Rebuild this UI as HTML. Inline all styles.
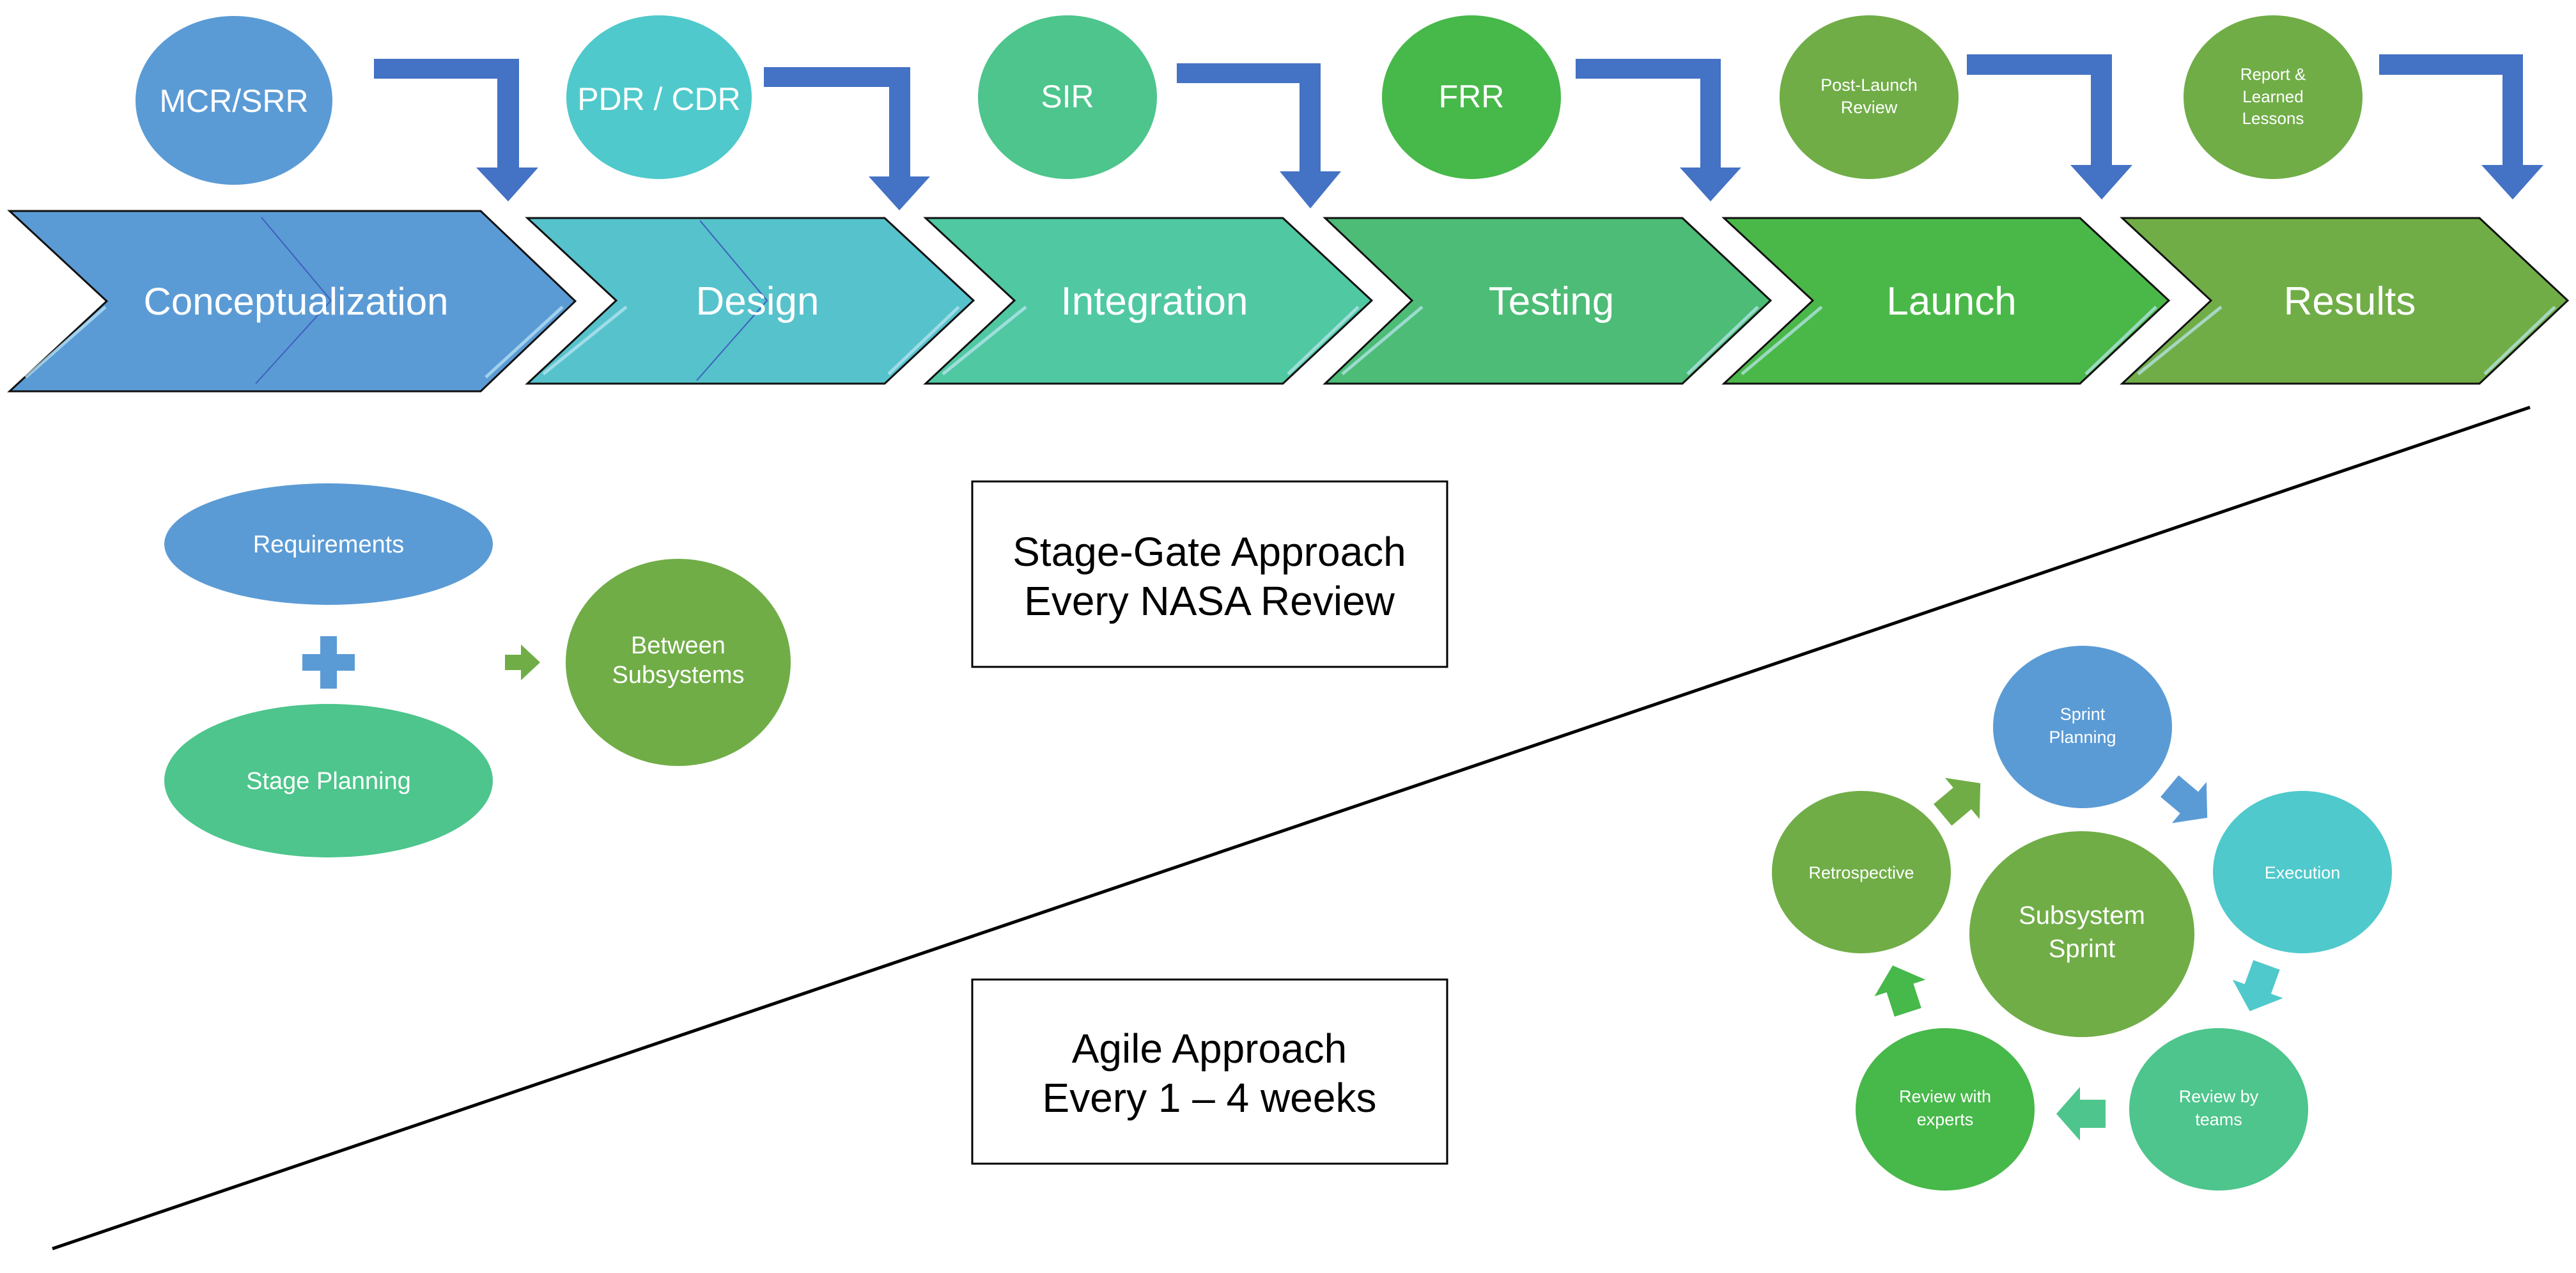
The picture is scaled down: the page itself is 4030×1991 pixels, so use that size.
<!DOCTYPE html>
<html><head><meta charset="utf-8"><style>
html,body{margin:0;padding:0;background:#fff;}
svg{display:block;}
text{font-family:"Liberation Sans",sans-serif;fill:#fff;text-anchor:middle;}
.b{fill:#000;}
</style></head><body>
<svg width="4030" height="1991" viewBox="0 0 4030 1991" xmlns="http://www.w3.org/2000/svg">
<defs>
<polygon id="sa" points="-35,-22 5,-22 5,-42 42,0 5,42 5,22 -35,22"/>
</defs>
<ellipse cx="366" cy="157" rx="154" ry="132" fill="#5B9BD5"/>
<ellipse cx="1031" cy="152" rx="145" ry="128" fill="#4FC9CB"/>
<ellipse cx="1670" cy="152" rx="140" ry="128" fill="#4DC58C"/>
<ellipse cx="2302" cy="152" rx="140" ry="128" fill="#47B84A"/>
<ellipse cx="2924" cy="152" rx="140" ry="128" fill="#70AD47"/>
<ellipse cx="3556" cy="152" rx="140" ry="128" fill="#70AD47"/>
<text x="366" y="175" font-size="50">MCR/SRR</text>
<text x="1031" y="172" font-size="50">PDR / CDR</text>
<text x="1670" y="168" font-size="50">SIR</text>
<text x="2302" y="168" font-size="50">FRR</text>
<text x="2924" y="142" font-size="27">Post-Launch</text>
<text x="2924" y="177" font-size="27">Review</text>
<text x="3556" y="125" font-size="26">Report &amp;</text>
<text x="3556" y="160" font-size="26">Learned</text>
<text x="3556" y="194" font-size="26">Lessons</text>
<g fill="#4472C4">
<polygon points="585,92 812,92 812,262 842,262 795,315 745,262 778,262 778,123 585,123"/>
<polygon points="1195,105 1424,105 1424,276 1455,276 1407,329 1359,276 1391,276 1391,136 1195,136"/>
<polygon points="1841,99 2066,99 2066,268 2098,268 2050,326 2002,268 2033,268 2033,130 1841,130"/>
<polygon points="2465,92 2692,92 2692,262 2724,262 2676,315 2628,262 2660,262 2660,123 2465,123"/>
<polygon points="3077,85 3304,85 3304,258 3336,258 3288,312 3239,258 3271,258 3271,117 3077,117"/>
<polygon points="3722,85 3947,85 3947,258 3979,258 3931,312 3882,258 3915,258 3915,117 3722,117"/>
</g>
<g stroke="#111" stroke-width="3">
<polygon points="15,330 752,330 900,471 752,612 15,612 167,471" fill="#5B9BD5"/>
<polygon points="825,341 1384,341 1523,470 1384,600 825,600 964,470" fill="#56C2CC"/>
<polygon points="1448,341 2007,341 2146,470 2007,600 1448,600 1587,470" fill="#50C8A2"/>
<polygon points="2073,341 2632,341 2770,470 2632,600 2073,600 2209,470" fill="#4CBC76"/>
<polygon points="2697,341 3254,341 3393,470 3254,600 2697,600 2836,470" fill="#4AB848"/>
<polygon points="3320,341 3879,341 4017,470 3879,600 3320,600 3459,470" fill="#70AD47"/>
</g>
<g stroke="#bfe8f5" stroke-width="5" opacity="0.7" fill="none">
<line x1="165" y1="480" x2="40" y2="590"/><line x1="880" y1="480" x2="760" y2="590"/>
<line x1="980" y1="480" x2="850" y2="585"/><line x1="1500" y1="480" x2="1390" y2="585"/>
<line x1="1605" y1="480" x2="1475" y2="585"/><line x1="2125" y1="480" x2="2015" y2="585"/>
<line x1="2225" y1="480" x2="2100" y2="585"/><line x1="2750" y1="480" x2="2640" y2="585"/>
<line x1="2850" y1="480" x2="2725" y2="585"/><line x1="3373" y1="480" x2="3263" y2="585"/>
<line x1="3475" y1="480" x2="3345" y2="585"/><line x1="3997" y1="480" x2="3887" y2="585"/>
</g>
<g stroke="#3f5fbf" stroke-width="2" fill="none">
<polyline points="409,340 518,470 400,600"/>
<polyline points="1095,345 1200,470 1090,595"/>
</g>
<text x="463" y="492" font-size="60">Conceptualization</text>
<text x="1185" y="492" font-size="62">Design</text>
<text x="1806" y="492" font-size="62">Integration</text>
<text x="2427" y="492" font-size="62">Testing</text>
<text x="3053" y="492" font-size="62">Launch</text>
<text x="3676" y="492" font-size="62">Results</text>
<line x1="82" y1="1953" x2="3958" y2="637" stroke="#000" stroke-width="5"/>
<ellipse cx="514" cy="851" rx="257" ry="95" fill="#5B9BD5"/>
<ellipse cx="514" cy="1221" rx="257" ry="120" fill="#4DC58C"/>
<text x="514" y="864" font-size="38">Requirements</text>
<text x="514" y="1234" font-size="38">Stage Planning</text>
<g fill="#5B9BD5"><rect x="473" y="1023" width="82" height="26"/><rect x="501" y="995" width="26" height="82"/></g>
<polygon points="790,1024 815,1024 815,1008 845,1036 815,1064 815,1048 790,1048" fill="#70AD47"/>
<ellipse cx="1061" cy="1036" rx="176" ry="162" fill="#70AD47"/>
<text x="1061" y="1022" font-size="38">Between</text>
<text x="1061" y="1068" font-size="38">Subsystems</text>
<rect x="1521" y="753" width="743" height="290" fill="#fff" stroke="#000" stroke-width="3"/>
<text class="b" x="1892" y="885" font-size="64">Stage-Gate Approach</text>
<text class="b" x="1892" y="962" font-size="64">Every NASA Review</text>
<rect x="1521" y="1532" width="743" height="288" fill="#fff" stroke="#000" stroke-width="3"/>
<text class="b" x="1892" y="1662" font-size="64">Agile Approach</text>
<text class="b" x="1892" y="1739" font-size="64">Every 1 – 4 weeks</text>
<ellipse cx="3258" cy="1137" rx="140" ry="127" fill="#5B9BD5"/>
<ellipse cx="3602" cy="1364" rx="140" ry="127" fill="#4FC9CB"/>
<ellipse cx="3471" cy="1735" rx="140" ry="127" fill="#4DC58C"/>
<ellipse cx="3043" cy="1735" rx="140" ry="127" fill="#47B84A"/>
<ellipse cx="2912" cy="1364" rx="140" ry="127" fill="#70AD47"/>
<ellipse cx="3257" cy="1461" rx="176" ry="161" fill="#70AD47"/>
<text x="3258" y="1126" font-size="27">Sprint</text>
<text x="3258" y="1162" font-size="27">Planning</text>
<text x="3602" y="1374" font-size="27">Execution</text>
<text x="3471" y="1724" font-size="27">Review by</text>
<text x="3471" y="1760" font-size="27">teams</text>
<text x="3043" y="1724" font-size="27">Review with</text>
<text x="3043" y="1760" font-size="27">experts</text>
<text x="2912" y="1374" font-size="27">Retrospective</text>
<text x="3257" y="1445" font-size="40">Subsystem</text>
<text x="3257" y="1497" font-size="40">Sprint</text>
<use href="#sa" transform="translate(3066,1252) rotate(-40)" fill="#70AD47"/>
<use href="#sa" transform="translate(3421,1252) rotate(40)" fill="#5B9BD5"/>
<use href="#sa" transform="translate(3534,1542) rotate(110)" fill="#4FC9CB"/>
<use href="#sa" transform="translate(3259,1742) rotate(180)" fill="#4DC58C"/>
<use href="#sa" transform="translate(2974,1550) rotate(-108)" fill="#47B84A"/>
</svg>
</body></html>
